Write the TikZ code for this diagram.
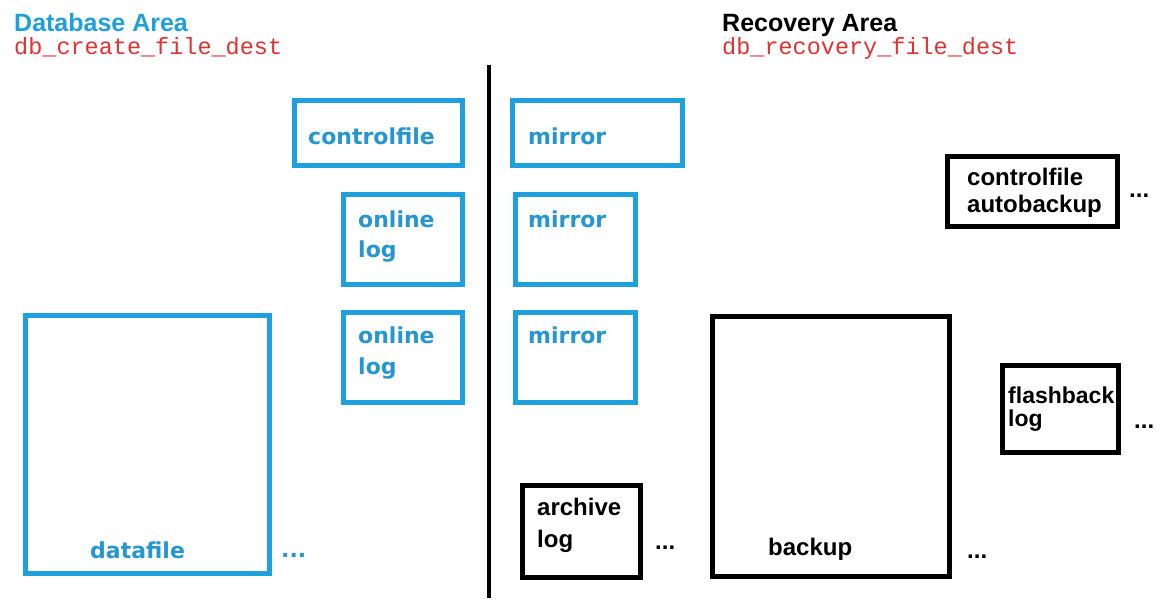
\documentclass[tikz,border=0pt]{standalone}
\usepackage{fontspec}
\setmainfont{Liberation Sans}
\newfontfamily\geofont{DejaVu Sans}
\setmonofont{Liberation Mono}
\definecolor{boxblue}{RGB}{30,160,220}
\definecolor{txtblue}{RGB}{38,150,210}
\definecolor{destred}{RGB}{225,50,50}
\tikzset{
  x=1pt, y=-1pt,
  bluebox/.style={draw=boxblue, line width=5pt, anchor=north west, inner sep=0pt},
  blackbox/.style={draw=black, line width=5pt, anchor=north west, inner sep=0pt},
  bluetxt/.style={anchor=base west, inner sep=0pt, text=txtblue, font=\geofont\fontsize{22}{26}\selectfont\bfseries},
  blacktxt/.style={anchor=base west, inner sep=0pt, text=black, font=\fontsize{24}{28}\selectfont\bfseries},
  titletxt/.style={anchor=base west, inner sep=0pt, font=\fontsize{25}{30}\selectfont\bfseries},
  desttxt/.style={anchor=base west, inner sep=0pt, text=destred, font=\ttfamily\fontsize{23.5}{28}\selectfont},
}
\begin{document}
\begin{tikzpicture}
\useasboundingbox[fill=white] (0,0) rectangle (1161,598);
% titles
\node[titletxt, text=boxblue] (dbt) at (14,31) {Database Area};
\node[desttxt] (dbd) at (14,54) {db\_create\_file\_dest};
\node[titletxt, text=black] (rct) at (722,31) {Recovery Area};
\node[desttxt] (rcd) at (722,54) {db\_recovery\_file\_dest};
% divider
\coordinate (vtop) at (489,65);
\coordinate (vbot) at (489,598);
\draw[line width=4pt] (vtop) -- (vbot);
% blue boxes
\node[bluebox, minimum width=168, minimum height=65] (cf) at (292,98) {};
\node[bluebox, minimum width=170, minimum height=65] (m1) at (510,98) {};
\node[bluebox, minimum width=119, minimum height=90] (ol1) at (341,192) {};
\node[bluebox, minimum width=120, minimum height=90] (m2) at (513,192) {};
\node[bluebox, minimum width=119, minimum height=90] (ol2) at (341,310) {};
\node[bluebox, minimum width=120, minimum height=90] (m3) at (513,310) {};
\node[bluebox, minimum width=244, minimum height=258] (df) at (23,313) {};
% black boxes
\node[blackbox, minimum width=118, minimum height=92] (al) at (520,483) {};
\node[blackbox, minimum width=237, minimum height=260] (bk) at (710,314) {};
\node[blackbox, minimum width=170, minimum height=70] (cab) at (945,154) {};
\node[blackbox, minimum width=116, minimum height=87] (fb) at (1000,363) {};
% blue texts
\node[bluetxt] (cft) at (308,144) {controlfile};
\node[bluetxt] (m1t) at (528,144) {mirror};
\node[bluetxt] (ol1a) at (358,227) {online};
\node[bluetxt] (ol1b) at (358,257) {log};
\node[bluetxt] (m2t) at (528,227) {mirror};
\node[bluetxt] (ol2a) at (358,343) {online};
\node[bluetxt] (ol2b) at (358,374) {log};
\node[bluetxt] (m3t) at (528,343) {mirror};
\node[bluetxt] (dft) at (90,558) {datafile};
\node[bluetxt] (dfd) at (281,557) {...};
% black texts
\node[blacktxt] (ala) at (537,515) {archive};
\node[blacktxt] (alb) at (537,547) {log};
\node[blacktxt] (ald) at (655,549) {...};
\node[blacktxt] (bkt) at (768,555) {backup};
\node[blacktxt] (bkd) at (967,558) {...};
\node[blacktxt] (caba) at (967,185) {controlfile};
\node[blacktxt] (cabb) at (967,212) {autobackup};
\node[blacktxt] (cabd) at (1129,197) {...};
\node[blacktxt, font=\fontsize{23}{28}\selectfont\bfseries] (fba) at (1008,403) {flashback};
\node[blacktxt, font=\fontsize{23}{28}\selectfont\bfseries] (fbb) at (1008,426) {log};
\node[blacktxt] (fbd) at (1134,428) {...};
\end{tikzpicture}
\end{document}
